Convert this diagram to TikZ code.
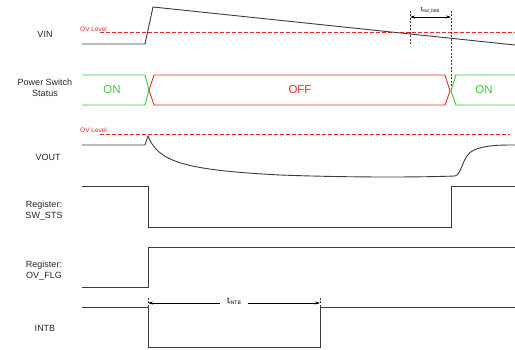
\documentclass[tikz,border=0pt]{standalone}
\usepackage{fontspec}
\setmainfont{Liberation Sans}
\usetikzlibrary{arrows.meta}
\definecolor{wgreen}{RGB}{60,200,60}
\definecolor{wred}{RGB}{235,40,40}
\definecolor{wline}{RGB}{60,60,60}
\begin{document}
\begin{tikzpicture}[x=1pt,y=-1pt,
  sig/.style={draw=wline,line width=0.9pt},
  lbl/.style={font=\fontsize{9}{11}\selectfont,text=black!85,align=center},
  ovtxt/.style={font=\fontsize{6.5}{7}\selectfont,text=wred,inner sep=0pt,anchor=south west},
  vdash/.style={draw=wline,dash pattern=on 2pt off 1.5pt,line width=0.5pt},
  dim/.style={draw=black,line width=0.6pt,{Stealth[length=5pt,width=3pt]}-{Stealth[length=5pt,width=3pt]}},
  bus/.style={line width=0.9pt}]
\useasboundingbox (0,0) rectangle (515,350);
% labels
\node[lbl] (lvin) at (45,34) {VIN};
\node[lbl] (lpss) at (45,88) {Power Switch\\Status};
\node[lbl] (lvout) at (48,157) {VOUT};
\node[lbl] (lsw) at (44,211) {Register:\\SW\_STS};
\node[lbl] (lov) at (44,271) {Register:\\OV\_FLG};
\node[lbl] (lint) at (45,328) {INTB};
% VIN
\draw[wred,line width=1pt,dash pattern=on 4pt off 2pt] (100,33) -- (515,33);
\node[ovtxt] (ov1) at (80,32) {OV Level};
\draw[sig] (82,44) -- (145,44) -- (153,7) -- (515,45);
\draw[vdash] (410,11) -- (410,44);
\draw[vdash] (451,11) -- (451,92);
\draw[dim] (410,17) -- (451,17);
\node[font=\fontsize{6.5}{7}\selectfont,inner sep=0pt] (tsw) at (430,10) {t\raisebox{-0.4ex}{\fontsize{4}{4}\selectfont SW\_DEB}};
% power switch status
\draw[wgreen,bus] (82,75) -- (145,75) -- (149,90) -- (145,105) -- (82,105);
\draw[wred,bus] (149,90) -- (154,75) -- (445,75) -- (450,91) -- (445,105) -- (154,105) -- cycle;
\draw[wgreen,bus] (515,75) -- (456,75) -- (451,91) -- (456,105) -- (515,105);
\node[text=wgreen,font=\fontsize{11.5}{13}\selectfont] (on1) at (112,90) {ON};
\node[text=wred,font=\fontsize{11.5}{13}\selectfont] (off) at (300,90) {OFF};
\node[text=wgreen,font=\fontsize{11.5}{13}\selectfont] (on2) at (484,90) {ON};
% VOUT
\draw[wred,line width=1pt,dash pattern=on 4pt off 2pt] (100,135) -- (510,135);
\node[ovtxt] (ov2) at (80,133) {OV Level};
\draw[sig] (82,145) -- (145,145) -- (148,136)
  .. controls (158,162) and (185,170) .. (280,175)
  .. controls (360,178) and (430,177) .. (455,176)
  .. controls (462,175) and (462,155) .. (474,150)
  .. controls (486,145) and (500,145) .. (515,145);
% SW_STS
\draw[sig] (82,186) -- (148,186) -- (148,227) -- (451,227) -- (451,186) -- (515,186);
% OV_FLG
\draw[sig] (82,287) -- (148,287) -- (148,247) -- (515,247);
% INTB
\draw[sig] (82,307) -- (148,307) -- (148,347) -- (320,347) -- (320,307) -- (515,307);
\draw[vdash] (148,298) -- (148,307);
\draw[vdash] (320,298) -- (320,307);
\node[font=\fontsize{8.5}{9}\selectfont,inner sep=1pt] (tint) at (234,301) {t\raisebox{-0.3ex}{\fontsize{5}{5}\selectfont INTB}};
\coordinate (al) at (148,303);
\coordinate (ar) at (320,303);
\draw[draw=black,line width=0.6pt,-{Stealth[length=5pt,width=3pt]}] (tint.west) ++(-6,2) -- (al);
\draw[draw=black,line width=0.6pt,-{Stealth[length=5pt,width=3pt]}] (tint.east) ++(6,2) -- (ar);
\end{tikzpicture}
\end{document}
